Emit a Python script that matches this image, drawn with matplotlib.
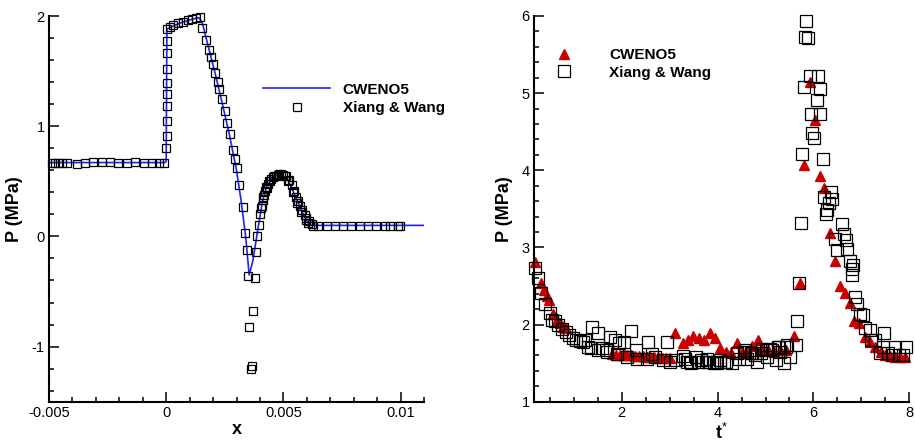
import numpy as np
import matplotlib
matplotlib.use("Agg")
import matplotlib.pyplot as plt
from matplotlib.ticker import MultipleLocator, FuncFormatter

plt.rcParams['font.family'] = ['Liberation Sans', 'DejaVu Sans']
plt.rcParams['mathtext.fontset'] = 'custom'
plt.rcParams['mathtext.rm'] = 'Liberation Sans'
plt.rcParams['mathtext.bf'] = 'Liberation Sans:bold'
plt.rcParams['mathtext.it'] = 'Liberation Sans:italic'
plt.rcParams['axes.unicode_minus'] = False

# ---- left panel: pressure profile along x (x given in 1e-3 m) ----
cweno_x = [-5.0, -0.05, 0.0, 0.03, 0.3, 0.7, 1.1, 1.4, 1.55, 1.8, 2.1, 2.4, 2.7, 3.0,
           3.2, 3.4, 3.54, 3.7, 3.9, 4.1, 4.3, 4.6, 4.9, 5.2, 5.5, 5.8, 6.0, 6.2, 6.5, 11.0]
cweno_p = [0.67, 0.67, 0.68, 1.88, 1.91, 1.945, 1.97, 1.985, 1.93, 1.72, 1.47, 1.20, 0.92, 0.60,
           0.32, -0.02, -0.35, -0.22, 0.05, 0.31, 0.46, 0.545, 0.565, 0.51, 0.37, 0.22, 0.14, 0.10, 0.10, 0.10]

xw_x = [-4.88, -4.74, -4.60, -4.46, -4.25, -3.82, -3.47, -3.14, -2.76, -2.40, -2.07, -1.69,
        -1.33, -0.95, -0.62, -0.30, -0.10,
        0.01, 0.02, 0.02, 0.02, 0.02, 0.02, 0.02, 0.02, 0.02,
        0.03, 0.16, 0.30, 0.51, 0.72, 0.94, 1.12, 1.29, 1.44,
        1.51, 1.69, 1.83, 1.91, 1.98, 2.08, 2.19, 2.26, 2.36, 2.50, 2.60, 2.72, 2.83, 2.93,
        3.00, 3.11, 3.26, 3.38, 3.43, 3.47,
        3.53, 3.60, 3.67, 3.71, 3.78,
        3.85, 3.88, 3.96, 4.02, 4.07, 4.11, 4.16, 4.21, 4.28, 4.35, 4.42, 4.49, 4.56, 4.68,
        4.77, 4.88, 4.99, 5.13, 5.24, 5.35, 5.44, 5.53, 5.63, 5.73, 5.81, 5.91, 5.98, 6.10,
        6.20, 6.27,
        4.05, 4.13, 4.25, 4.40, 4.60, 4.80, 5.05, 5.20, 5.40, 5.58, 5.75, 5.95, 6.05,
        6.48, 6.84, 7.19, 7.55, 7.90, 8.26, 8.61, 8.97, 9.32, 9.54, 9.89, 9.96]
xw_p = [0.67, 0.67, 0.67, 0.67, 0.67, 0.66, 0.67, 0.675, 0.675, 0.675, 0.67, 0.67,
        0.675, 0.67, 0.67, 0.67, 0.67,
        0.80, 0.91, 1.045, 1.18, 1.29, 1.39, 1.52, 1.66, 1.77,
        1.885, 1.90, 1.915, 1.935, 1.95, 1.965, 1.976, 1.985, 1.99,
        1.894, 1.78, 1.69, 1.63, 1.56, 1.485, 1.40, 1.34, 1.243, 1.136, 1.03, 0.925, 0.788, 0.703,
        0.62, 0.47, 0.267, 0.03, -0.127, -0.357,
        -0.82, -1.203, -1.173, -0.678, -0.378,
        -0.142, 0.0, 0.10, 0.20, 0.28, 0.334, 0.38, 0.41, 0.44, 0.476, 0.50, 0.52, 0.536, 0.552,
        0.56, 0.57, 0.56, 0.552, 0.515, 0.47, 0.41, 0.355, 0.318, 0.273, 0.236, 0.197, 0.167, 0.136,
        0.115, 0.097,
        0.26, 0.36, 0.45, 0.50, 0.545, 0.565, 0.545, 0.50, 0.40, 0.30, 0.22, 0.15, 0.12,
        0.097, 0.097, 0.097, 0.097, 0.097, 0.097, 0.097, 0.097, 0.097, 0.097, 0.097, 0.097]

# ---- right panel: pressure history vs t* ----
cw_t = [0.19, 0.31, 0.37, 0.45, 0.49, 0.57, 0.64, 0.72, 0.78, 0.83,
        1.80, 1.88, 1.96, 2.04, 2.12, 2.20, 2.28, 2.36, 2.44, 2.52, 2.60, 2.68, 2.76, 2.84, 2.92, 3.00,
        3.11, 3.28, 3.39, 3.49, 3.61, 3.72, 3.84, 3.95, 4.06, 4.17, 4.27, 4.40, 4.51, 4.62, 4.72,
        4.84, 4.93, 5.05, 5.17, 5.30, 5.42, 5.60, 5.71, 5.81, 5.92, 6.03, 6.13, 6.23, 6.34, 6.46,
        6.56, 6.65, 6.76, 6.85, 6.96, 7.08, 7.19, 7.29, 7.40, 7.50, 7.60, 7.71, 7.81, 7.92]
cw_p = [2.816, 2.535, 2.45, 2.37, 2.32, 2.14, 2.06, 2.017, 1.97, 1.95,
        1.62, 1.61, 1.61, 1.60, 1.60, 1.60, 1.59, 1.59, 1.59, 1.58, 1.58, 1.58, 1.58, 1.57, 1.57, 1.57,
        1.887, 1.76, 1.80, 1.85, 1.82, 1.80, 1.887, 1.82, 1.69, 1.65, 1.63, 1.757, 1.65, 1.63, 1.72,
        1.80, 1.68, 1.67, 1.65, 1.67, 1.67, 1.85, 2.54, 4.07, 5.15, 4.65, 3.92, 3.77, 3.19, 2.82,
        2.50, 2.41, 2.28, 2.05, 2.02, 1.84, 1.78, 1.71, 1.65, 1.605, 1.59, 1.585, 1.585, 1.575]

xwt_t = [0.19, 0.26, 0.31, 0.40, 0.50, 0.54, 0.60, 0.67, 0.76, 0.83, 0.90, 0.98, 1.05, 1.12,
         1.19, 1.23, 1.30, 1.36, 1.39, 1.51, 1.51, 1.58, 1.67, 1.69, 1.76, 1.86, 1.90, 1.95,
         2.04, 2.10, 2.19, 2.29, 2.31, 2.52, 2.55, 2.64, 2.69, 2.86, 2.94, 3.00, 3.14, 3.28,
         3.31, 3.36, 3.42, 3.45, 3.54, 3.59, 3.65, 3.75, 3.77, 3.82, 3.92, 3.96, 3.99, 4.06,
         4.13, 4.17, 4.31, 4.41, 4.44, 4.55, 4.58, 4.62, 4.69, 4.72, 4.79, 4.83, 4.90, 4.93,
         5.02, 5.04, 5.10, 5.14, 5.21, 5.26, 5.28, 5.31, 5.38, 5.42, 5.45, 5.52, 5.63, 5.66,
         5.70, 5.75, 5.77, 5.80, 5.83, 5.85, 5.89, 5.92, 5.94, 5.97, 6.01, 6.08, 6.10, 6.13,
         6.13, 6.19, 6.23, 6.27, 6.29, 6.32, 6.37, 6.39, 6.46, 6.49, 6.60, 6.63, 6.67, 6.69,
         6.76, 6.81, 6.81, 6.83, 6.86, 6.91, 6.97, 7.04, 7.08, 7.19, 7.20, 7.29, 7.38, 7.45,
         7.47, 7.55, 7.65, 7.70, 7.79, 7.86, 7.94]
xwt_p = [2.73, 2.60, 2.405, 2.27, 2.15, 2.06, 2.04, 1.995, 1.94, 1.90, 1.865, 1.82, 1.80, 1.787,
         1.78, 1.80, 1.71, 1.69, 1.97, 1.89, 1.67, 1.69, 1.67, 1.65, 1.84, 1.80, 1.615, 1.757,
         1.78, 1.585, 1.92, 1.67, 1.56, 1.56, 1.78, 1.615, 1.585, 1.54, 1.78, 1.52, 1.54, 1.595,
         1.56, 1.52, 1.52, 1.50, 1.585, 1.52, 1.54, 1.52, 1.56, 1.52, 1.50, 1.52, 1.50, 1.54,
         1.52, 1.52, 1.50, 1.63, 1.56, 1.65, 1.67, 1.56, 1.63, 1.63, 1.605, 1.52, 1.63, 1.68,
         1.67, 1.585, 1.68, 1.67, 1.54, 1.71, 1.71, 1.65, 1.50, 1.71, 1.735, 1.585, 1.74, 2.04,
         2.54, 3.32, 4.21, 5.08, 5.73, 5.94, 5.71, 5.22, 4.73, 4.48, 4.42, 4.91, 5.22, 5.06,
         4.73, 4.14, 3.65, 3.43, 3.49, 3.57, 3.72, 3.625, 3.11, 2.97, 3.31, 3.18, 3.10, 2.98,
         2.82, 2.72, 2.64, 2.77, 2.36, 2.27, 2.14, 2.12, 1.95, 1.93, 1.80, 1.80, 1.63, 1.71,
         1.887, 1.63, 1.605, 1.71, 1.605, 1.605, 1.71]


def style(ax):
    for s in ['top', 'right']:
        ax.spines[s].set_visible(False)
    for s in ['left', 'bottom']:
        ax.spines[s].set_linewidth(1.5)
    ax.tick_params(which='both', direction='in', width=1.1, labelsize=10.5, pad=3)
    ax.tick_params(which='major', length=7)
    ax.tick_params(which='minor', length=3.6)


fmt = FuncFormatter(lambda v, pos: '%g' % v)

fig = plt.figure(figsize=(9.15, 4.46), dpi=100)

ax1 = fig.add_axes([49/915, 1 - 401.7/446, 375/915, 385.7/446])
ax1.plot(np.array(cweno_x)*1e-3, cweno_p, color='#2020ff', lw=1.2, label='CWENO5')
ax1.plot(np.array(xw_x)*1e-3, xw_p, ls='none', marker='s', ms=5.6, mfc='none',
         mec='black', mew=0.9, label='Xiang & Wang', clip_on=False)
ax1.set_xlim(-0.005, 0.011)
ax1.set_ylim(-1.5, 2)
ax1.xaxis.set_major_locator(MultipleLocator(0.005))
ax1.xaxis.set_minor_locator(MultipleLocator(0.001))
ax1.yaxis.set_major_locator(MultipleLocator(1))
ax1.yaxis.set_minor_locator(MultipleLocator(0.2))
ax1.xaxis.set_major_formatter(fmt)
ax1.yaxis.set_major_formatter(fmt)
style(ax1)
ax1.set_xlabel('x', fontsize=13, fontweight='bold', labelpad=1)
ax1.set_ylabel('P (MPa)', fontsize=13, fontweight='bold', labelpad=6)
ax1.legend(loc='upper left', bbox_to_anchor=(0.571, 0.827), frameon=False,
           prop={'size': 11, 'weight': 'bold'}, handlelength=4.4, handletextpad=0.8,
           labelspacing=0.3, borderpad=0, borderaxespad=0, numpoints=1)

ax2 = fig.add_axes([534/915, 1 - 401.7/446, 375.3/915, 385.7/446])
ax2.plot(cw_t, cw_p, ls='none', marker='^', ms=7.8, color='#cc0000', mec='#cc0000',
         label='CWENO5', clip_on=False)
ax2.plot(xwt_t, xwt_p, ls='none', marker='s', ms=8, mfc='none', mec='black', mew=0.9,
         label='Xiang & Wang', clip_on=False)
ax2.set_xlim(0.17, 8)
ax2.set_ylim(1, 6)
ax2.xaxis.set_major_locator(MultipleLocator(2))
ax2.xaxis.set_minor_locator(MultipleLocator(0.5))
ax2.yaxis.set_major_locator(MultipleLocator(1))
ax2.yaxis.set_minor_locator(MultipleLocator(0.2))
ax2.xaxis.set_major_formatter(fmt)
ax2.yaxis.set_major_formatter(fmt)
style(ax2)
ax2.set_xlabel(r'$\mathbf{t}^{*}$', fontsize=13, labelpad=2)
ax2.set_ylabel('P (MPa)', fontsize=13, fontweight='bold', labelpad=6)
ax2.legend(loc='upper left', bbox_to_anchor=(0.039, 0.917), frameon=False,
           prop={'size': 11, 'weight': 'bold'}, handlelength=2, handletextpad=1.96,
           labelspacing=0.25, borderpad=0, borderaxespad=0, numpoints=1)

fig.savefig('out.png', dpi=100)
